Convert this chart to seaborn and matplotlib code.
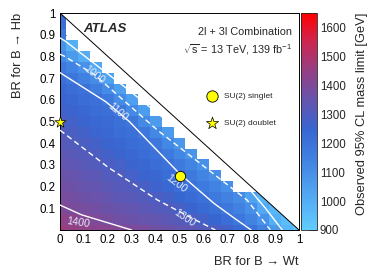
import numpy as np
import matplotlib
matplotlib.use('Agg')
import matplotlib.pyplot as plt
from matplotlib.colors import LinearSegmentedColormap, Normalize
from matplotlib.cm import ScalarMappable
from matplotlib.ticker import MultipleLocator
import seaborn as sns

# bin centres of the BR scan
br_wt = [0, 0.05, 0.1, 0.15, 0.2, 0.25, 0.3, 0.35, 0.4, 0.45, 0.5,
         0.55, 0.6, 0.65, 0.7, 0.75, 0.8, 0.85, 0.9, 0.95, 1.0]
br_hb = list(br_wt)

# observed mass limit [GeV], one list per BR(B->Hb) row, starting at BR(B->Wt)=0
mass_y000 = [1460, 1450, 1440, 1430, 1420, 1410, 1400, 1390, 1370, 1360, 1340, 1330, 1310, 1300, 1270, 1230, 1200, 1140, 1070, 970, 920]
mass_y005 = [1440, 1430, 1415, 1400, 1385, 1370, 1360, 1350, 1340, 1325, 1315, 1300, 1275, 1250, 1220, 1185, 1140, 1090, 995, 950, 910]
mass_y010 = [1405, 1395, 1385, 1375, 1360, 1350, 1340, 1325, 1315, 1305, 1285, 1260, 1235, 1210, 1180, 1145, 1105, 1020, 970, 930, 900]
mass_y015 = [1390, 1380, 1365, 1355, 1345, 1330, 1320, 1310, 1295, 1275, 1250, 1230, 1205, 1175, 1145, 1115, 1040, 980, 950, 920, 900]
mass_y020 = [1375, 1365, 1350, 1340, 1325, 1315, 1305, 1285, 1265, 1245, 1225, 1205, 1175, 1140, 1105]
mass_y025 = [1360, 1350, 1335, 1325, 1310, 1300, 1280, 1260, 1240, 1225, 1205, 1170, 1135, 1100]
mass_y030 = [1345, 1335, 1320, 1310, 1295, 1280, 1260, 1240, 1225, 1205, 1175, 1135, 1095]
mass_y035 = [1335, 1320, 1310, 1295, 1275, 1260, 1240, 1225, 1205, 1175, 1130, 1080]
mass_y040 = [1320, 1305, 1290, 1275, 1260, 1240, 1225, 1210, 1180, 1125, 1070]
mass_y045 = [1305, 1290, 1275, 1255, 1240, 1225, 1210, 1180, 1125, 1065]
mass_y050 = [1290, 1275, 1260, 1245, 1230, 1210, 1185, 1120, 1060]
mass_y055 = [1275, 1260, 1245, 1225, 1210, 1180, 1115, 1055]
mass_y060 = [1260, 1245, 1225, 1210, 1175, 1110, 1045]
mass_y065 = [1240, 1220, 1205, 1160, 1110, 1045]
mass_y070 = [1215, 1190, 1150, 1110, 1040]
mass_y075 = [1180, 1140, 1095, 1020]
mass_y080 = [1120, 1065, 1005]
mass_y085 = [1090, 995]
mass_y090 = [1180]
mass_y095 = [1220]
mass_y100 = [1240]

# contour lines
c1000_x = [0.0, 0.02, 0.27, 0.547, 0.783, 0.86, 0.93]
c1000_y = [0.885, 0.872, 0.66, 0.415, 0.2, 0.1, 0.0]
c1100_x = [0.0, 0.02, 0.145, 0.408, 0.783, 0.845, 0.88]
c1100_y = [0.81, 0.80, 0.715, 0.46, 0.138, 0.05, 0.0]
c1200_x = [0.0, 0.193, 0.29, 0.499, 0.644, 0.735, 0.8]
c1200_y = [0.725, 0.59, 0.5, 0.261, 0.123, 0.05, 0.0]
c1300_x = [0.0, 0.2, 0.408, 0.56, 0.65]
c1300_y = [0.46, 0.29, 0.138, 0.05, 0.0]
c1400_x = [0.0, 0.09, 0.255, 0.3]
c1400_y = [0.115, 0.07, 0.015, 0.0]

# contour labels: text, x, y, angle
lab_text = ['1000', '1100', '1200', '1300', '1400']
lab_x = [0.145, 0.24, 0.485, 0.52, 0.075]
lab_y = [0.715, 0.545, 0.215, 0.055, 0.034]
lab_rot = [-38, -40, -37, -34, -8]

singlet = (0.5, 0.25)
doublet = (0.0, 0.5)

tick_pos = [0, 0.1, 0.2, 0.3, 0.4, 0.5, 0.6, 0.7, 0.8, 0.9, 1.0]
x_ticklabels = ['0', '0.1', '0.2', '0.3', '0.4', '0.5', '0.6', '0.7', '0.8', '0.9', '1']
y_ticklabels = ['', '0.1', '0.2', '0.3', '0.4', '0.5', '0.6', '0.7', '0.8', '0.9', '1']
cbar_ticks = [900, 1000, 1100, 1200, 1300, 1400, 1500, 1600]

sns.set_style('ticks')
plt.rcParams['font.family'] = ['Liberation Sans', 'DejaVu Sans']
plt.rcParams['mathtext.fontset'] = 'custom'
plt.rcParams['mathtext.rm'] = 'Liberation Sans'
plt.rcParams['mathtext.it'] = 'Liberation Sans:italic'

rows = [mass_y000, mass_y005, mass_y010, mass_y015, mass_y020, mass_y025, mass_y030,
        mass_y035, mass_y040, mass_y045, mass_y050, mass_y055, mass_y060, mass_y065,
        mass_y070, mass_y075, mass_y080, mass_y085, mass_y090, mass_y095, mass_y100]
Z = np.full((len(br_hb), len(br_wt)), np.nan)
for j, row in enumerate(rows):
    Z[j, :len(row)] = row

vmin, vmax = 900, 1650
anchors = [(900, (0.38, 0.80, 1.00)), (1000, (0.33, 0.68, 0.96)),
           (1150, (0.25, 0.50, 0.88)), (1250, (0.22, 0.40, 0.82)),
           (1350, (0.40, 0.33, 0.68)), (1450, (0.58, 0.25, 0.52)),
           (1550, (0.80, 0.15, 0.32)), (1650, (1.00, 0.00, 0.00))]
cmap = LinearSegmentedColormap.from_list(
    'lim', [((v - vmin) / (vmax - vmin), c) for v, c in anchors])
norm = Normalize(vmin, vmax)

W, H = 374, 274
fig = plt.figure(figsize=(W / 100, H / 100), dpi=100)
ax = fig.add_axes([60 / W, 44 / H, 239 / W, 217 / H])
cax = fig.add_axes([301 / W, 44 / H, 16 / W, 217 / H])

ax.pcolormesh(br_wt, br_hb, Z, shading='nearest', cmap=cmap, norm=norm, zorder=1)
ax.fill_between([0, 1], [1, 0], [1, 1], color='white', zorder=2, lw=0)
ax.plot([0, 1], [1, 0], color='black', lw=0.7, zorder=3)

for cx, cy, ls in [(c1000_x, c1000_y, '-'), (c1100_x, c1100_y, '--'),
                   (c1200_x, c1200_y, '-'), (c1300_x, c1300_y, '--'),
                   (c1400_x, c1400_y, '-')]:
    line = sns.lineplot(x=cx, y=cy, sort=False, estimator=None, color='white',
                        lw=1.0, ax=ax, zorder=4)
    if ls == '--':
        line.lines[-1].set_dashes((4, 2.5))

for t, x, y, r in zip(lab_text, lab_x, lab_y, lab_rot):
    ax.text(x, y, t, rotation=r, rotation_mode='anchor', ha='center', va='center',
            fontsize=7.6, color='#e6ecf7', zorder=5)

sns.scatterplot(x=[singlet[0]], y=[singlet[1]], marker='o', s=55, color='#ffff00',
                edgecolor='black', linewidth=0.6, ax=ax, zorder=6, clip_on=False,
                label='SU(2) singlet')
sns.scatterplot(x=[doublet[0]], y=[doublet[1]], marker='*', s=70, color='#ffff00',
                edgecolor='black', linewidth=0.5, ax=ax, zorder=6, clip_on=False,
                label='SU(2) doublet')
ax.legend(loc='upper left', bbox_to_anchor=(0.617, 0.633), frameon=False, fontsize=6,
          handletextpad=0.8, labelspacing=2.3, borderpad=0, borderaxespad=0,
          handlelength=1.2, markerscale=1.1)

ax.set_xlim(0, 1)
ax.set_ylim(0, 1)
ax.set_xticks(tick_pos)
ax.set_xticklabels(x_ticklabels)
ax.set_yticks(tick_pos)
ax.set_yticklabels(y_ticklabels)
ax.xaxis.set_minor_locator(MultipleLocator(0.02))
ax.yaxis.set_minor_locator(MultipleLocator(0.02))
ax.tick_params(which='major', direction='in', length=4.5, width=0.6, labelsize=8.3,
               pad=3, top=False, right=False, colors='black')
ax.tick_params(which='minor', direction='in', length=2, width=0.5, top=False, right=False)
ax.set_xlabel('')
ax.set_ylabel('')
for s in ax.spines.values():
    s.set_linewidth(0.7)
    s.set_color('black')

cb = fig.colorbar(ScalarMappable(norm=norm, cmap=cmap), cax=cax)
cb.set_ticks(cbar_ticks)
cb.outline.set_linewidth(0.6)
cax.tick_params(direction='in', length=5.5, width=0.6, labelsize=8.3, pad=2)

fig.text(18 / W, 1 - 13 / H, 'BR for B \u2192 Hb', rotation=90, ha='center', va='top', fontsize=9.3)
fig.text(298 / W, 1 - 262 / H, 'BR for B \u2192 Wt', ha='right', va='center', fontsize=9.3)
fig.text(362 / W, 1 - 13 / H, 'Observed 95% CL mass limit [GeV]', rotation=90,
         ha='center', va='top', fontsize=9.3)
fig.text(83 / W, 1 - 29 / H, 'ATLAS', fontweight='bold', fontstyle='italic',
         ha='left', va='center', fontsize=9.5)
fig.text(292 / W, 1 - 32 / H, '2l + 3l Combination', ha='right', va='center', fontsize=7.8)
fig.text(292 / W, 1 - 50 / H, r'$\sqrt{\mathrm{s}}$ = 13 TeV, 139 fb$^{\mathrm{-1}}$',
         ha='right', va='center', fontsize=7.8)

fig.savefig('out.png', dpi=100)
